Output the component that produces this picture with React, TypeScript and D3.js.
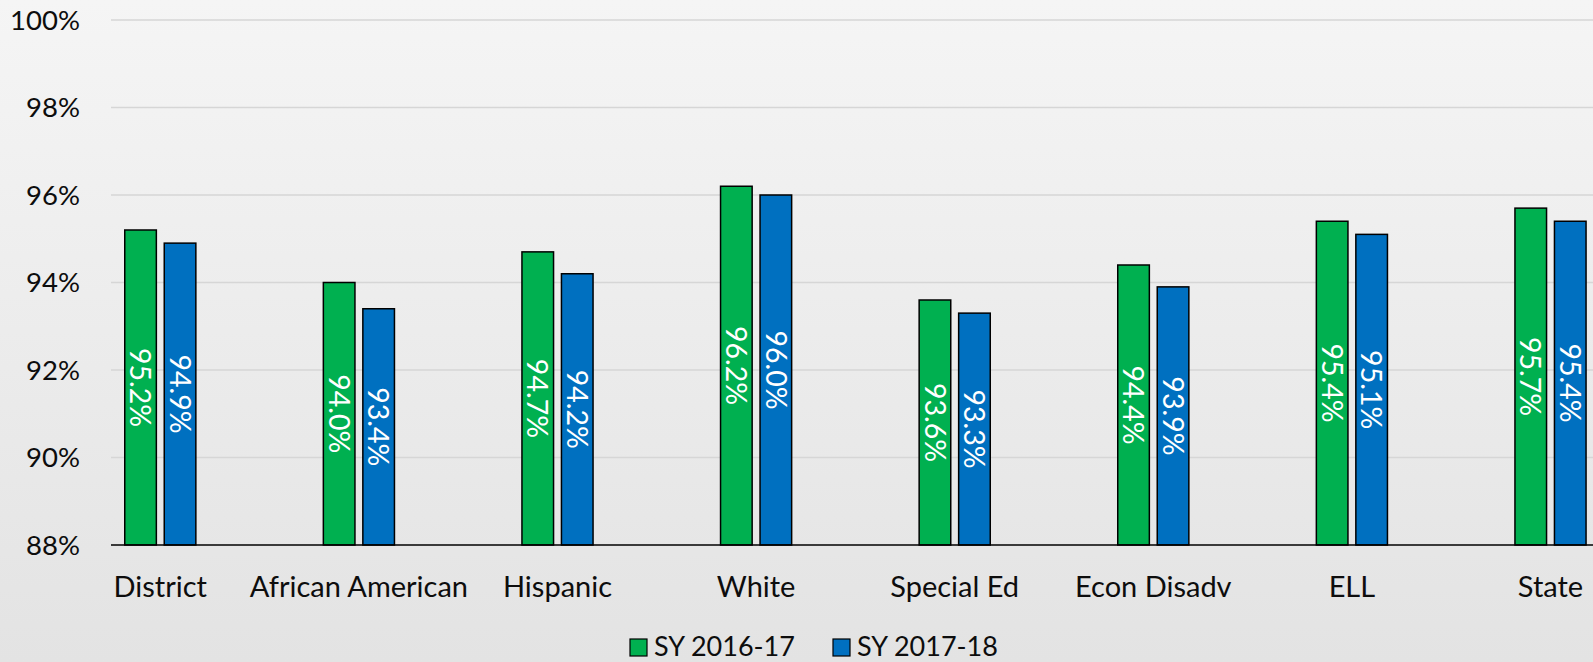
import React, { useEffect, useRef } from 'react';
import * as d3 from 'd3';

const categories = ['District', 'African American', 'Hispanic', 'White', 'Special Ed', 'Econ Disadv', 'ELL', 'State'];
const seriesNames = ['SY 2016-17', 'SY 2017-18'];
const sy1617 = [95.2, 94.0, 94.7, 96.2, 93.6, 94.4, 95.4, 95.7];
const sy1718 = [94.9, 93.4, 94.2, 96.0, 93.3, 93.9, 95.1, 95.4];
const yTicks = [88, 90, 92, 94, 96, 98, 100];
const colors = ['#00b050', '#0070c0'];

const FONT = 'Lato, "Open Sans", sans-serif';

const App: React.FC = () => {
  const svgRef = useRef<SVGSVGElement>(null);

  useEffect(() => {
    if (!svgRef.current) return;
    const svg = d3.select(svgRef.current);
    svg.selectAll('*').remove();

    const width = 1593;
    const height = 662;
    const plotLeft = 111;
    const top = 20;
    const bottom = 545;

    // background
    const defs = svg.append('defs');
    const grad = defs.append('linearGradient')
      .attr('id', 'bg').attr('x1', 0).attr('y1', 0).attr('x2', 0).attr('y2', 1);
    grad.append('stop').attr('offset', '0%').attr('stop-color', '#f5f5f5');
    grad.append('stop').attr('offset', '100%').attr('stop-color', '#e3e3e3');
    svg.append('rect').attr('width', width).attr('height', height).attr('fill', 'url(#bg)');

    const y = d3.scaleLinear().domain([88, 100]).range([bottom, top]);

    // the category bands run off the right edge of the picture
    const x0 = d3.scaleBand<string>()
      .domain(categories)
      .range([61, 61 + 8 * 198.6])
      .paddingInner(0.642)
      .paddingOuter(0.321);

    const x1 = d3.scaleBand<string>()
      .domain(seriesNames)
      .range([0, x0.bandwidth()])
      .paddingInner(0.2);

    // grid
    svg.append('g')
      .selectAll('line')
      .data(yTicks.filter(t => t !== 88))
      .join('line')
      .attr('x1', plotLeft)
      .attr('x2', width)
      .attr('y1', d => y(d))
      .attr('y2', d => y(d))
      .attr('stroke', '#d6d6d6')
      .attr('stroke-width', 1.5);

    // y tick labels
    svg.append('g')
      .selectAll('text')
      .data(yTicks)
      .join('text')
      .attr('x', 80)
      .attr('y', d => y(d))
      .attr('dy', '0.36em')
      .attr('text-anchor', 'end')
      .attr('font-family', FONT)
      .attr('font-size', 27.5)
      .attr('fill', '#0d0d0d')
      .text(d => `${d}%`);

    const rows = categories.map((c, i) => ({ cat: c, vals: [sy1617[i], sy1718[i]] }));

    const groups = svg.append('g')
      .selectAll('g')
      .data(rows)
      .join('g')
      .attr('transform', d => `translate(${x0(d.cat)},0)`);

    const bars = groups.selectAll('g')
      .data(d => d.vals.map((v, j) => ({ name: seriesNames[j], v, j })))
      .join('g');

    bars.append('rect')
      .attr('x', d => x1(d.name)!)
      .attr('y', d => y(d.v))
      .attr('width', x1.bandwidth())
      .attr('height', d => bottom - y(d.v))
      .attr('fill', d => colors[d.j])
      .attr('stroke', '#000')
      .attr('stroke-width', 1.5);

    bars.append('text')
      .attr('transform', d => `translate(${x1(d.name)! + x1.bandwidth() / 2},${(y(d.v) + bottom) / 2}) rotate(90)`)
      .attr('text-anchor', 'middle')
      .attr('dy', '0.36em')
      .attr('font-family', FONT)
      .attr('font-size', 28.5)
      .attr('fill', '#fff')
      .text(d => `${d.v.toFixed(1)}%`);

    // axis line
    svg.append('line')
      .attr('x1', plotLeft).attr('x2', width)
      .attr('y1', bottom).attr('y2', bottom)
      .attr('stroke', '#000').attr('stroke-width', 1.5);

    // category labels
    svg.append('g')
      .selectAll('text')
      .data(categories)
      .join('text')
      .attr('x', d => x0(d)! + x0.bandwidth() / 2)
      .attr('y', 597)
      .attr('text-anchor', 'middle')
      .attr('font-family', FONT)
      .attr('font-size', 29)
      .attr('fill', '#0d0d0d')
      .text(d => d);

    // legend
    const legendX = [630, 833];
    const legend = svg.append('g')
      .selectAll('g')
      .data(seriesNames)
      .join('g')
      .attr('transform', (d, i) => `translate(${legendX[i]},639)`);
    legend.append('rect')
      .attr('width', 17).attr('height', 17)
      .attr('fill', (d, i) => colors[i])
      .attr('stroke', '#000').attr('stroke-width', 1.2);
    legend.append('text')
      .attr('x', 24)
      .attr('y', 17)
      .attr('font-family', FONT)
      .attr('font-size', 27)
      .attr('fill', '#0d0d0d')
      .text(d => d);
  }, []);

  return (
    <svg
      ref={svgRef}
      width={1593}
      height={662}
      viewBox="0 0 1593 662"
      style={{ position: 'absolute', left: 0, top: 0, display: 'block' }}
    ></svg>
  );
};

export default App;
